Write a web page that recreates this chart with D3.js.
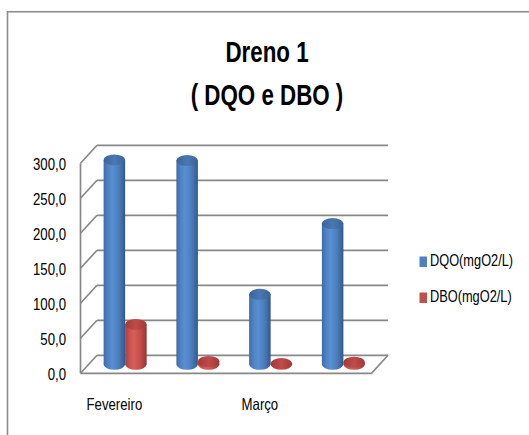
<!DOCTYPE html>
<html>
<head>
<meta charset="utf-8">
<script src="https://cdn.jsdelivr.net/npm/d3@7"></script>
<style>
  html, body { margin: 0; padding: 0; background: #ffffff; }
  svg { display: block; }
  text { font-family: "Liberation Sans", Arial, sans-serif; fill: #000; }
</style>
</head>
<body>
<svg id="chart" width="529" height="435"></svg>
<script>
// ---- data ----
const categories = ["Fevereiro", "Fevereiro (2)", "Março", "Março (2)"];
const categoryLabels = ["Fevereiro", "", "Março", ""];
const seriesNames = ["DQO(mgO2/L)", "DBO(mgO2/L)"];
const dqoValues = [292, 291, 100, 201];
const dboValues = [57, 4, 1, 3];
const yTicks = [0, 50, 100, 150, 200, 250, 300];
const titleLines = ["Dreno 1", "( DQO e DBO )"];

// ---- layout ----
const svg = d3.select("#chart");
const W = 529, H = 435;
const depthX = 16.5, depthY = -18;   // offset from front plane to back wall
const barDepth = 0.5;                // bars sit half way in depth
const narrow = 0.8;                  // horizontal squeeze to mimic a condensed font

const x = d3.scaleBand().domain(categories).range([80.5, 371.5]);
const yFront = d3.scaleLinear().domain([0, 300]).range([373.3, 163.3]);

const fmt = v => d3.format(".1f")(v).replace(".", ",");
const place = (px, py) => `translate(${px},${py}) scale(${narrow},1)`;

// chart border
svg.append("rect")
  .attr("x", 7.5).attr("y", 11.75)
  .attr("width", W + 20).attr("height", H + 20)
  .attr("fill", "none").attr("stroke", "#8c8c8c").attr("stroke-width", 1.6);

// defs: gradients for cylinders
const defs = svg.append("defs");
function cylGrad(id, stops) {
  const g = defs.append("linearGradient").attr("id", id)
    .attr("x1", "0%").attr("x2", "100%").attr("y1", "0%").attr("y2", "0%");
  stops.forEach(s => g.append("stop").attr("offset", s[0]).attr("stop-color", s[1]));
}
cylGrad("gBlue", [["0%", "#3f6ba6"], ["20%", "#4f82c4"], ["40%", "#5890d3"], ["70%", "#4c7dbb"], ["92%", "#3a6499"], ["100%", "#2f5485"]]);
cylGrad("gRed", [["0%", "#a8403d"], ["20%", "#c8504d"], ["40%", "#d65d5a"], ["70%", "#c44e4b"], ["92%", "#a43c39"], ["100%", "#8c2f2d"]]);
cylGrad("gBlueTop", [["0%", "#3a6399"], ["50%", "#4a78b4"], ["100%", "#3a6399"]]);
cylGrad("gRedTop", [["0%", "#a23a37"], ["50%", "#c04b48"], ["100%", "#a23a37"]]);

const grid = svg.append("g")
  .attr("fill", "none").attr("stroke", "#888888").attr("stroke-width", 1.7);

// back wall gridlines
const backX0 = x.range()[0] + depthX, backX1 = x.range()[1] + depthX;
yTicks.forEach(v => {
  const yb = yFront(v) + depthY;
  grid.append("line").attr("x1", backX0).attr("x2", backX1).attr("y1", yb).attr("y2", yb);
  // side wall diagonal
  grid.append("line").attr("x1", x.range()[0]).attr("y1", yFront(v))
    .attr("x2", backX0).attr("y2", yb);
});
// vertical front axis line
grid.append("line").attr("x1", x.range()[0]).attr("x2", x.range()[0])
  .attr("y1", yFront(300)).attr("y2", yFront(0));
// floor front edge and right diagonal
grid.append("path").attr("d",
  `M${x.range()[0]},${yFront(0)} L${x.range()[1]},${yFront(0)} L${backX1},${yFront(0) + depthY}`);

// y tick labels
svg.append("g").selectAll("text").data(yTicks).join("text")
  .attr("transform", d => place(66, yFront(d) + 2))
  .attr("text-anchor", "end").attr("dominant-baseline", "middle")
  .attr("font-size", 16.5)
  .text(d => fmt(d));

// x labels
svg.append("g").selectAll("text").data(categories).join("text")
  .attr("transform", d => place(x(d) + x.bandwidth() / 2 - 2.5, 406))
  .attr("text-anchor", "middle").attr("dominant-baseline", "middle")
  .attr("font-size", 16.5)
  .text((d, i) => categoryLabels[i]);

// cylinders
const barW = 21.5, rx = barW / 2, ry = 5.5;
const bars = [];
categories.forEach((c, i) => {
  bars.push({ cat: c, v: dqoValues[i], s: 0 });
  bars.push({ cat: c, v: dboValues[i], s: 1 });
});
const barsG = svg.append("g");
bars.forEach(b => {
  const cx = x(b.cat) + x.bandwidth() / 2 + depthX * barDepth + (b.s === 0 ? -rx : rx);
  const yBase = yFront(0) + depthY * barDepth;
  const yTop = yFront(b.v) + depthY * barDepth;
  const x0 = cx - rx, x1 = cx + rx;
  barsG.append("path")
    .attr("d", `M${x0},${yTop} V${yBase} A${rx},${ry} 0 0 0 ${x1},${yBase} V${yTop} Z`)
    .attr("fill", b.s === 0 ? "url(#gBlue)" : "url(#gRed)");
  barsG.append("ellipse")
    .attr("cx", cx).attr("cy", yTop).attr("rx", rx).attr("ry", ry)
    .attr("fill", b.s === 0 ? "url(#gBlueTop)" : "url(#gRedTop)");
});

// title
const title = svg.append("g");
title.selectAll("text").data(titleLines).join("text")
  .attr("transform", (d, i) => `translate(267,${i === 0 ? 62 : 105}) scale(0.77,1)`)
  .attr("text-anchor", "middle").attr("font-weight", "bold")
  .attr("font-size", 29)
  .text(d => d);

// legend
const legendColors = ["#4f81bd", "#c0504d"];
const legend = svg.append("g");
seriesNames.forEach((n, i) => {
  const cy = i === 0 ? 262 : 298;
  legend.append("rect").attr("x", 419.5).attr("y", cy - 5.5).attr("width", 7.5).attr("height", 10.5)
    .attr("fill", legendColors[i]);
  legend.append("text").attr("transform", place(430, cy))
    .attr("dominant-baseline", "middle").attr("font-size", 16)
    .text(n);
});
</script>
</body>
</html>
